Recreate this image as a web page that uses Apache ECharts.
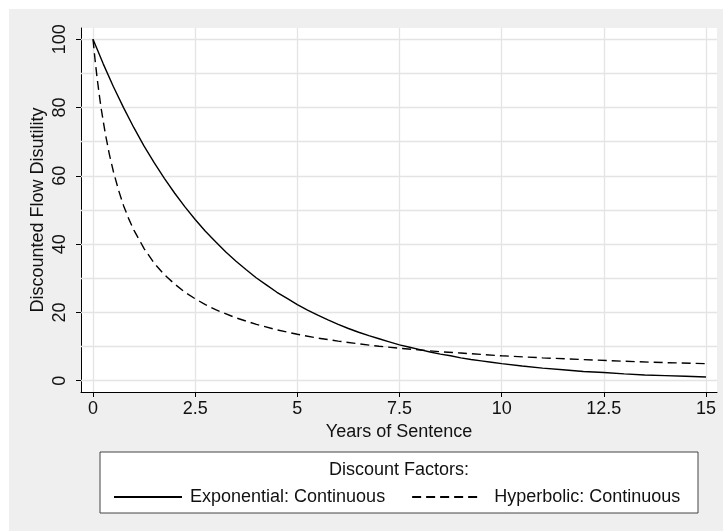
<!DOCTYPE html>
<html>
<head>
<meta charset="utf-8">
<script src="https://cdn.jsdelivr.net/npm/echarts@6/dist/echarts.min.js"></script>
<style>html,body{margin:0;padding:0;background:#fff;}#c{width:723px;height:531px;}</style>
</head>
<body>
<div id="c"></div>
<script>
// Years of sentence (x) and discounted flow disutility (y)
const expYears = [0,0.25,0.5,0.75,1,1.25,1.5,1.75,2,2.25,2.5,2.75,3,3.25,3.5,3.75,4,4.25,4.5,4.75,5,5.25,5.5,5.75,6,6.25,6.5,6.75,7,7.25,7.5,7.75,8,8.25,8.5,8.75,9,9.25,9.5,9.75,10,10.5,11,11.5,12,12.5,13,13.5,14,14.5,15];
const expValues = [100,92.8,86.1,79.9,74.1,68.7,63.8,59.2,54.9,50.9,47.2,43.8,40.7,37.7,35.0,32.5,30.1,28.0,25.9,24.1,22.3,20.7,19.2,17.8,16.5,15.3,14.2,13.2,12.3,11.4,10.5,9.8,9.1,8.4,7.8,7.3,6.7,6.2,5.8,5.4,5.0,4.3,3.7,3.2,2.7,2.4,2.0,1.7,1.5,1.3,1.1];
const hypYears = [0,0.05,0.1,0.15,0.2,0.3,0.4,0.5,0.625,0.75,0.875,1,1.25,1.5,1.75,2,2.25,2.5,2.75,3,3.5,4,4.5,5,5.5,6,6.5,7,7.5,8,8.5,9,9.5,10,11,12,13,14,15];
const hypValues = [100,94.0,88.7,84.0,79.7,72.4,66.3,61.2,55.8,51.2,47.4,44.1,38.7,34.4,31.0,28.3,25.9,24.0,22.3,20.8,18.4,16.5,14.9,13.6,12.5,11.6,10.8,10.1,9.5,9.0,8.5,8.1,7.7,7.3,6.7,6.2,5.7,5.3,5.0];
const xTicks = [0,2.5,5,7.5,10,12.5,15];
const yTicks = [0,20,40,60,80,100];
const yGrid = [0,10,20,30,40,50,60,70,80,90,100];
const seriesNames = ['Exponential: Continuous','Hyperbolic: Continuous'];
const legendTitle = 'Discount Factors:';
const xTitle = 'Years of Sentence';
const yTitle = 'Discounted Flow Disutility';

const FONT = '"Liberation Sans", Arial, sans-serif';
const FS = 18;
const chart = echarts.init(document.getElementById('c'), null, {renderer:'canvas'});
const gridStyle = {color:'#e4e4e4', width:1.3, type:'solid'};
const option = {
  backgroundColor:'#ffffff',
  animation:false,
  textStyle:{fontFamily:FONT},
  graphic:[
    {type:'rect', z:-10, shape:{x:9,y:9,width:714,height:522}, style:{fill:'#efefef'}},
    {type:'rect', z:1, shape:{x:100,y:452,width:598,height:61}, style:{fill:'#ffffff', stroke:'#444', lineWidth:1}},
    {type:'text', z:2, x:399, y:470, style:{text:legendTitle, fill:'#111', font:FS + 'px ' + FONT, align:'center', verticalAlign:'middle'}}
  ],
  grid:{left:81, top:28, right:6, bottom:139, show:true, backgroundColor:'#ffffff', borderWidth:0},
  legend:{
    data:[
      {name:seriesNames[0]},
      {name:seriesNames[1], textStyle:{padding:[0,0,0,9]}}
    ],
    left:108, top:483, itemWidth:68, itemHeight:14, itemGap:26,
    itemStyle:{opacity:0},
    textStyle:{fontSize:FS, color:'#111', fontFamily:FONT, padding:[0,0,0,3]}
  },
  xAxis:{
    type:'value', min:-0.294, max:15.27,
    name:xTitle, nameLocation:'middle', nameGap:29,
    nameTextStyle:{fontSize:FS, color:'#111', fontFamily:FONT},
    axisLine:{show:true, onZero:false, lineStyle:{color:'#000', width:1}},
    axisTick:{show:true, length:5, lineStyle:{color:'#000'}, customValues:xTicks},
    axisLabel:{fontSize:FS, color:'#111', margin:8, customValues:xTicks, fontFamily:FONT},
    splitLine:{show:false}
  },
  yAxis:{
    type:'value', min:-3.3, max:103.3,
    name:yTitle, nameLocation:'middle', nameGap:34, nameRotate:90, nameMoveOverlap:false,
    nameTextStyle:{fontSize:FS, color:'#111', fontFamily:FONT},
    axisLine:{show:true, onZero:false, lineStyle:{color:'#000', width:1}},
    axisTick:{show:true, length:5, lineStyle:{color:'#000'}, customValues:yTicks},
    axisLabel:{fontSize:FS, color:'#111', margin:12, rotate:90, customValues:yTicks, fontFamily:FONT},
    splitLine:{show:false}
  },
  series:[
    {
      name:'grid', type:'line', data:[], z:1, silent:true,
      markLine:{silent:true, symbol:['none','none'], label:{show:false}, lineStyle:gridStyle, animation:false,
        data: xTicks.map(v=>({xAxis:v})).concat(yGrid.map(v=>({yAxis:v})))}
    },
    {
      name:seriesNames[0], type:'line', z:5, showSymbol:false, symbol:'none', smooth:false,
      lineStyle:{color:'#000', width:1.4, type:'solid'}, itemStyle:{color:'#000'},
      data: expYears.map((x,i)=>[x, expValues[i]])
    },
    {
      name:seriesNames[1], type:'line', z:5, showSymbol:false, symbol:'none', smooth:false,
      lineStyle:{color:'#000', width:1.4, type:[9,5]}, itemStyle:{color:'#000'},
      data: hypYears.map((x,i)=>[x, hypValues[i]])
    }
  ]
};
chart.setOption(option);
</script>
</body>
</html>
